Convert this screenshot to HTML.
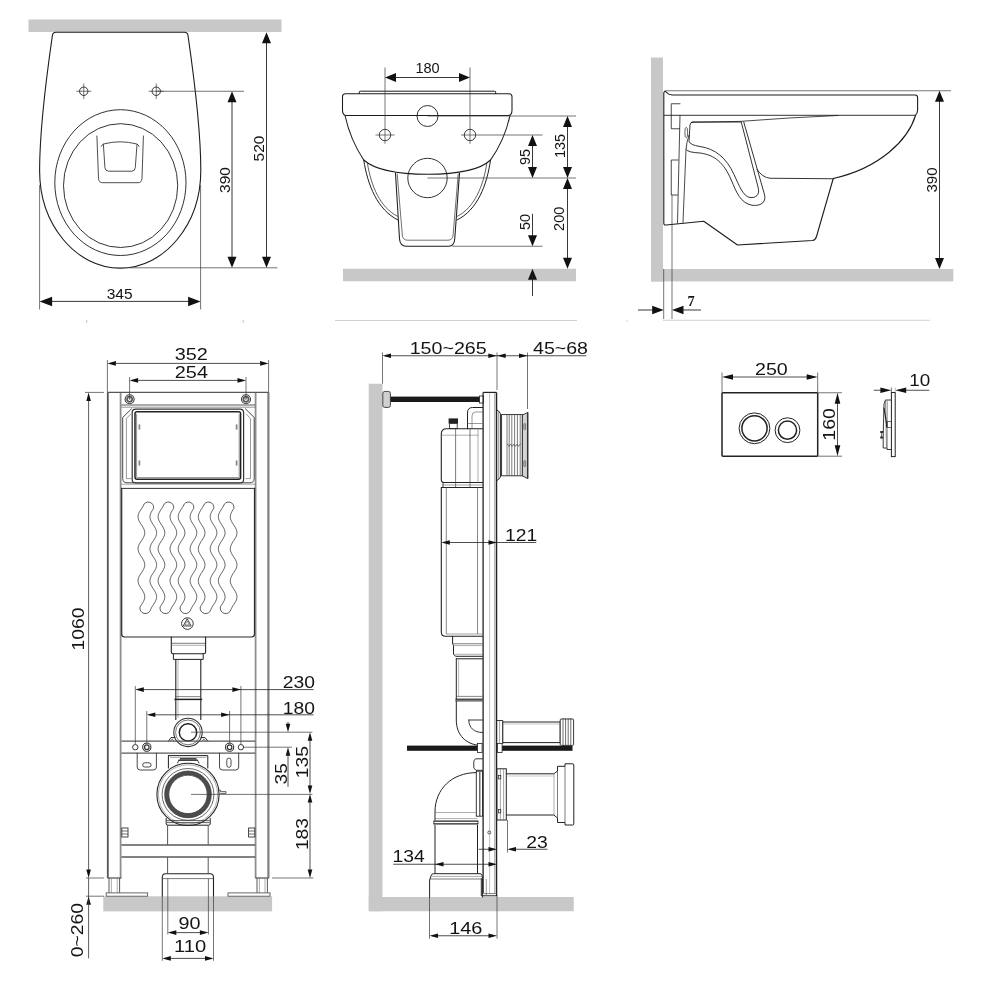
<!DOCTYPE html>
<html><head><meta charset="utf-8"><title>Dimensions</title>
<style>
html,body{margin:0;padding:0;background:#fff;width:1000px;height:1000px;overflow:hidden}
svg{display:block;will-change:transform}
text{font-family:"Liberation Sans",sans-serif}
</style></head><body>
<svg width="1000" height="1000" viewBox="0 0 1000 1000">
<rect x="0" y="0" width="1000" height="1000" fill="#ffffff"/>
<g id="v-top">
<rect x="28.5" y="19.5" width="253" height="12.5" fill="#c8c8c8"/>
<path d="M56,32.3 L184.5,32.3 Q187.6,32.3 188,35.5 C193,70 200.8,130 200.8,170.5 C200.8,224.4 164.7,268.1 120.2,268.1 C75.7,268.1 39.6,224.4 39.6,170.5 C39.6,130 47.4,70 52.4,35.5 Q52.8,32.3 56,32.3 Z" fill="none" stroke="#1c1c1c" stroke-width="1.1" stroke-linejoin="round" stroke-linecap="round" />
<ellipse cx="120.4" cy="182.6" rx="65.6" ry="72.9" fill="none" stroke="#1c1c1c" stroke-width="0.9"/>
<ellipse cx="120.6" cy="185.6" rx="57.1" ry="61.9" fill="none" stroke="#1c1c1c" stroke-width="0.9"/>
<path d="M96.9,136 L98.5,178.5 Q98.8,182.7 102.5,182.7 L138,182.7 Q141.8,182.7 142,178.5 L143.4,136" fill="none" stroke="#3a3a3a" stroke-width="0.9" stroke-linejoin="round" stroke-linecap="round" />
<path d="M101.2,146.3 Q102,144.6 103.6,144 Q120,139.6 136.9,144 Q138.4,144.6 139,146.3 M103.4,144.2 L104.9,167.5 Q105.2,171.2 108.6,171.2 L131.8,171.2 Q135,171.2 135.3,167.5 L137,144.4" fill="none" stroke="#3a3a3a" stroke-width="0.9" stroke-linejoin="round" stroke-linecap="round" />
<circle cx="83.75" cy="91.25" r="4.2" fill="none" stroke="#1c1c1c" stroke-width="0.9"/>
<line x1="76.25" y1="91.25" x2="91.25" y2="91.25" stroke="#3a3a3a" stroke-width="0.7" />
<line x1="83.75" y1="83.5" x2="83.75" y2="99" stroke="#3a3a3a" stroke-width="0.7" />
<circle cx="156.25" cy="91.25" r="4.2" fill="none" stroke="#1c1c1c" stroke-width="0.9"/>
<line x1="148.75" y1="91.25" x2="163.75" y2="91.25" stroke="#3a3a3a" stroke-width="0.7" />
<line x1="156.25" y1="83.5" x2="156.25" y2="99" stroke="#3a3a3a" stroke-width="0.7" />
<line x1="156" y1="91.25" x2="244" y2="91.25" stroke="#3a3a3a" stroke-width="0.7" />
<line x1="130" y1="267.8" x2="277.5" y2="267.8" stroke="#3a3a3a" stroke-width="0.7" />
<line x1="39.6" y1="185" x2="39.6" y2="309.5" stroke="#3a3a3a" stroke-width="0.7" />
<line x1="200.6" y1="185" x2="200.6" y2="309.5" stroke="#3a3a3a" stroke-width="0.7" />
<line x1="232" y1="95" x2="232" y2="264" stroke="#222" stroke-width="0.9" />
<polygon points="232,91.25 227.5,102.25 236.5,102.25" fill="#111"/>
<polygon points="232,267.8 227.5,256.8 236.5,256.8" fill="#111"/>
<text x="229.8" y="180" font-size="15.5" text-anchor="middle" fill="#141414" transform="rotate(-90 229.8 180)">390</text>
<line x1="266.5" y1="36" x2="266.5" y2="264" stroke="#222" stroke-width="0.9" />
<polygon points="266.5,32.3 262,43.3 271,43.3" fill="#111"/>
<polygon points="266.5,267.8 262,256.8 271,256.8" fill="#111"/>
<text x="264.4" y="148.5" font-size="15.5" text-anchor="middle" fill="#141414" transform="rotate(-90 264.4 148.5)">520</text>
<line x1="44" y1="301.4" x2="196" y2="301.4" stroke="#222" stroke-width="0.9" />
<polygon points="39.6,301.4 52.1,296.65 52.1,306.15" fill="#111"/>
<polygon points="200.6,301.4 188.1,296.65 188.1,306.15" fill="#111"/>
<text x="119.6" y="298.6" font-size="15.5" text-anchor="middle" fill="#141414">345</text>
<line x1="86.8" y1="320" x2="86.8" y2="323" stroke="#aaa" stroke-width="0.7" />
<line x1="243.2" y1="320" x2="243.2" y2="323" stroke="#aaa" stroke-width="0.7" />
</g>
<g id="v-back">
<rect x="343" y="268.75" width="233" height="12.5" fill="#c8c8c8"/>
<path d="M359.3,93.6 L359.3,92 Q359.3,91.2 360.4,91.2 L494.6,91.2 Q495.7,91.2 495.7,92 L495.7,93.6" fill="none" stroke="#1c1c1c" stroke-width="1.0" stroke-linejoin="round" stroke-linecap="round" />
<path d="M 345.5,93.75 L 509,93.75 Q 512,93.75 512,96.75 L 512,110 Q 512,115.5 508,115.5 L 346.5,115.5 Q 342.5,115.5 342.5,110 L 342.5,96.75 Q 342.5,93.75 345.5,93.75 Z" fill="none" stroke="#1c1c1c" stroke-width="1.05" stroke-linejoin="round" stroke-linecap="round" />
<path d="M 345,115.5 C 348.75,132.5 353.75,145 363.75,160 C 375,170 397.5,174.25 427.5,174.25 C 457.5,174.25 480,170 490.5,160 C 501.25,145 506.25,132.5 510,115.5" fill="none" stroke="#1c1c1c" stroke-width="1.05" stroke-linejoin="round" stroke-linecap="round" />
<path d="M 363.75,160 C 367.5,185 377.5,210 398,220" fill="none" stroke="#1c1c1c" stroke-width="1.0" stroke-linejoin="round" stroke-linecap="round" />
<path d="M 367.5,163.75 C 371.25,186.25 380,207.5 397.5,216.25" fill="none" stroke="#1c1c1c" stroke-width="0.7" stroke-linejoin="round" stroke-linecap="round" />
<path d="M 490.5,160 C 487,185 477.5,210 457,220" fill="none" stroke="#1c1c1c" stroke-width="1.0" stroke-linejoin="round" stroke-linecap="round" />
<path d="M 486.75,163.75 C 483.25,186.25 474.5,207.5 457.5,216.25" fill="none" stroke="#1c1c1c" stroke-width="0.7" stroke-linejoin="round" stroke-linecap="round" />
<path d="M 395.5,173.25 L 399.5,238.75 Q 400,246.25 406.25,246.25 L 448.75,246.25 Q 454.25,246.25 454.75,238.75 L 459.5,173.25" fill="none" stroke="#1c1c1c" stroke-width="1.05" stroke-linejoin="round" stroke-linecap="round" />
<path d="M397.2,174 L402.3,235 Q402.8,240.2 407.5,240.2 L448,240.2 Q452.6,240.2 453.1,235 L458.2,174" fill="none" stroke="#333" stroke-width="0.7" stroke-linejoin="round" stroke-linecap="round" />
<circle cx="427.5" cy="178" r="19.7" fill="none" stroke="#1c1c1c" stroke-width="0.9"/>
<circle cx="427.5" cy="116" r="10.5" fill="none" stroke="#1c1c1c" stroke-width="0.9"/>
<circle cx="385" cy="135" r="5.7" fill="none" stroke="#1c1c1c" stroke-width="0.85"/>
<circle cx="470" cy="135" r="5.7" fill="none" stroke="#1c1c1c" stroke-width="0.85"/>
<line x1="385" y1="67.5" x2="385" y2="143.8" stroke="#3a3a3a" stroke-width="0.7" />
<line x1="470" y1="67.5" x2="470" y2="143.8" stroke="#3a3a3a" stroke-width="0.7" />
<line x1="375.5" y1="135" x2="394.5" y2="135" stroke="#3a3a3a" stroke-width="0.7" />
<line x1="461" y1="135" x2="542.5" y2="135" stroke="#3a3a3a" stroke-width="0.7" />
<line x1="427.5" y1="116" x2="576" y2="116" stroke="#3a3a3a" stroke-width="0.7" />
<line x1="427.5" y1="178" x2="576" y2="178" stroke="#3a3a3a" stroke-width="0.7" />
<line x1="452.5" y1="246.25" x2="542.5" y2="246.25" stroke="#3a3a3a" stroke-width="0.7" />
<line x1="389" y1="77.5" x2="466" y2="77.5" stroke="#222" stroke-width="0.9" />
<polygon points="385,77.5 396,73 396,82" fill="#111"/>
<polygon points="470,77.5 459,73 459,82" fill="#111"/>
<text x="427.5" y="72.6" font-size="14.5" text-anchor="middle" fill="#141414">180</text>
<line x1="532.5" y1="139" x2="532.5" y2="174" stroke="#222" stroke-width="0.9" />
<polygon points="532.5,135 528,146 537,146" fill="#111"/>
<polygon points="532.5,178 528,167 537,167" fill="#111"/>
<text x="530" y="157" font-size="14.5" text-anchor="middle" fill="#141414" transform="rotate(-90 530 157)">95</text>
<line x1="567.5" y1="120" x2="567.5" y2="174" stroke="#222" stroke-width="0.9" />
<polygon points="567.5,116 563,127 572,127" fill="#111"/>
<polygon points="567.5,178 563,167 572,167" fill="#111"/>
<text x="564.5" y="146" font-size="14.5" text-anchor="middle" fill="#141414" transform="rotate(-90 564.5 146)">135</text>
<line x1="567.5" y1="182" x2="567.5" y2="265" stroke="#222" stroke-width="0.9" />
<polygon points="567.5,178 563,189 572,189" fill="#111"/>
<polygon points="567.5,268.75 563,257.75 572,257.75" fill="#111"/>
<text x="564.5" y="218.8" font-size="14.5" text-anchor="middle" fill="#141414" transform="rotate(-90 564.5 218.8)">200</text>
<line x1="532.5" y1="213.75" x2="532.5" y2="240" stroke="#222" stroke-width="0.9" />
<polygon points="532.5,246.25 528,235.25 537,235.25" fill="#111"/>
<polygon points="532.5,268.75 528,279.75 537,279.75" fill="#111"/>
<line x1="532.5" y1="275" x2="532.5" y2="296" stroke="#222" stroke-width="0.9" />
<text x="530" y="222" font-size="14.5" text-anchor="middle" fill="#141414" transform="rotate(-90 530 222)">50</text>
<line x1="335" y1="320.5" x2="577" y2="320.5" stroke="#bdbdbd" stroke-width="0.7" />
</g>
<g id="v-side">
<rect x="651" y="57.5" width="12" height="224" fill="#c8c8c8"/>
<rect x="651" y="269" width="302.3" height="12.4" fill="#c8c8c8"/>
<line x1="664.5" y1="90.75" x2="951" y2="90.75" stroke="#3a3a3a" stroke-width="0.7" />
<path d="M663.8,93 L663.8,223 Q663.8,225.3 666,225 L703.75,221.25 L737.5,245 L812.5,240.5 Q815.5,240 816.5,236.5 L833.25,178.5 C880,168 908,140 915.5,115.5 Q917.6,113 917.6,110 L917.6,97.5 Q917.6,95 915,95 L672,95 Q668,94.6 666.5,92.3 Q664.5,90.3 663.8,93 Z" fill="none" stroke="#1c1c1c" stroke-width="1.1" stroke-linejoin="round" stroke-linecap="round" />
<line x1="663.8" y1="115.3" x2="916" y2="115.3" stroke="#1c1c1c" stroke-width="0.9" />
<path d="M691.5,122.3 L740,121.4 Q790,117.5 838,115.5" fill="none" stroke="#1c1c1c" stroke-width="0.8" stroke-linejoin="round" stroke-linecap="round" />
<path d="M 757,169.5 Q 762.5,177.5 770,178.25 L 833.75,178.75" fill="none" stroke="#1c1c1c" stroke-width="0.9" stroke-linejoin="round" stroke-linecap="round" />
<path d="M 693,122 L 741.25,122 L 758,187 C 760.5,195 755.5,198.25 750,197.5 C 743,196.25 739.5,186.25 734,174.5 C 726.25,157.5 715,148.75 700,146.5 Q 690,145 689,141.25 L 690,125 Q 690.25,122 693,122" fill="none" stroke="#1c1c1c" stroke-width="0.9" stroke-linejoin="round" stroke-linecap="round" />
<path d="M 743.75,122 L 764.25,193.75 C 766.75,201.25 762,206.5 752,205.25 C 740.5,203 736.5,192.5 731.25,180 C 724,163 715,155 700,153 Q 688,152.5 686,149.5" fill="none" stroke="#1c1c1c" stroke-width="0.9" stroke-linejoin="round" stroke-linecap="round" />
<path d="M 680,103.75 L 671.25,103.75 L 671.25,128.75 L 679.5,128.75" fill="none" stroke="#1c1c1c" stroke-width="0.8" stroke-linejoin="round" stroke-linecap="round" />
<path d="M 678,160 L 671.25,160 L 671.25,195 L 677.5,195" fill="none" stroke="#1c1c1c" stroke-width="0.8" stroke-linejoin="round" stroke-linecap="round" />
<path d="M 680,115.5 L 677.5,223" fill="none" stroke="#1c1c1c" stroke-width="0.8" stroke-linejoin="round" stroke-linecap="round" />
<path d="M 689,135 Q 686.5,142.5 686,149.5 L 683,222.5" fill="none" stroke="#1c1c1c" stroke-width="0.8" stroke-linejoin="round" stroke-linecap="round" />
<ellipse cx="686.25" cy="132.5" rx="1.4" ry="5.2" fill="none" stroke="#1c1c1c" stroke-width="0.7"/>
<line x1="663.7" y1="269" x2="663.7" y2="319" stroke="#3a3a3a" stroke-width="0.7" />
<line x1="672" y1="195" x2="672" y2="319" stroke="#3a3a3a" stroke-width="0.7" />
<line x1="638" y1="310" x2="654" y2="310" stroke="#222" stroke-width="0.9" />
<polygon points="663.7,310 652.2,305.75 652.2,314.25" fill="#111"/>
<polygon points="672,310 683.5,305.75 683.5,314.25" fill="#111"/>
<line x1="682" y1="310" x2="701" y2="310" stroke="#222" stroke-width="0.9" />
<text x="691.2" y="306.2" font-size="14.4" text-anchor="middle" fill="#141414" style="font-family:'Liberation Serif',serif;font-weight:bold;">7</text>
<line x1="939.5" y1="95" x2="939.5" y2="265" stroke="#222" stroke-width="0.9" />
<polygon points="939.5,90.75 935,101.75 944,101.75" fill="#111"/>
<polygon points="939.5,268.9 935,257.9 944,257.9" fill="#111"/>
<text x="936.8" y="180" font-size="15" text-anchor="middle" fill="#141414" transform="rotate(-90 936.8 180)">390</text>
<line x1="663" y1="320.3" x2="930" y2="320.3" stroke="#bdbdbd" stroke-width="0.7" />
<line x1="627" y1="320" x2="627" y2="322" stroke="#bbb" stroke-width="0.7" />
</g>
<g id="v-frame">
<rect x="103.3" y="896.3" width="168.8" height="15.1" fill="#c8c8c8"/>
<line x1="107.8" y1="392.4" x2="107.8" y2="878" stroke="#555" stroke-width="1.8" />
<line x1="120.6" y1="392.4" x2="120.6" y2="878" stroke="#8e8e8e" stroke-width="1.8" />
<line x1="255.6" y1="392.4" x2="255.6" y2="878" stroke="#8e8e8e" stroke-width="1.8" />
<line x1="268.4" y1="392.4" x2="268.4" y2="878" stroke="#808080" stroke-width="2.2" />
<line x1="107.4" y1="392.4" x2="268.8" y2="392.4" stroke="#585858" stroke-width="1.4" />
<line x1="121.4" y1="405" x2="255.3" y2="405" stroke="#585858" stroke-width="1.0" />
<line x1="121.4" y1="407.2" x2="255.3" y2="407.2" stroke="#666" stroke-width="0.7" />
<circle cx="129.6" cy="399.2" r="4.5" fill="none" stroke="#3a3a3a" stroke-width="1.1"/>
<circle cx="129.6" cy="399.2" r="2.6" fill="none" stroke="#5a5a5a" stroke-width="1.7"/>
<path d="M128.4,398 L130.79999999999998,400.4 M130.79999999999998,398 L128.4,400.4" fill="none" stroke="#777" stroke-width="0.6" stroke-linejoin="round" stroke-linecap="round" />
<circle cx="246" cy="399.2" r="4.5" fill="none" stroke="#3a3a3a" stroke-width="1.1"/>
<circle cx="246" cy="399.2" r="2.6" fill="none" stroke="#5a5a5a" stroke-width="1.7"/>
<path d="M244.8,398 L247.2,400.4 M247.2,398 L244.8,400.4" fill="none" stroke="#777" stroke-width="0.6" stroke-linejoin="round" stroke-linecap="round" />
<path d="M131.5,408.8 L122.7,417.5 L122.7,478.5 Q122.7,482.8 127,482.8 L249.9,482.8 Q254.2,482.8 254.2,478.5 L254.2,417.5 L245.4,408.8" fill="none" stroke="#333" stroke-width="0.9" stroke-linejoin="round" stroke-linecap="round" />
<path d="M130.6,414 L126.4,418.6 L126.4,478.6 L131,478.6 M246.3,414 L250.5,418.6 L250.5,478.6 L246,478.6" fill="none" stroke="#555" stroke-width="0.6" stroke-linejoin="round" stroke-linecap="round" />
<line x1="121.4" y1="484.2" x2="255.3" y2="484.2" stroke="#666" stroke-width="0.6" />
<rect x="132.2" y="409.2" width="111.4" height="73.8" fill="none" stroke="#333" stroke-width="1.2" rx="3.5"/>
<rect x="135" y="411.8" width="105.6" height="67.4" fill="none" stroke="#222" stroke-width="1.5" rx="2"/>
<line x1="136.6" y1="414" x2="136.6" y2="477.6" stroke="#666" stroke-width="0.7" />
<line x1="239.2" y1="414" x2="239.2" y2="477.6" stroke="#666" stroke-width="0.7" />
<line x1="137" y1="477.6" x2="239" y2="477.6" stroke="#666" stroke-width="0.7" />
<rect x="138.5" y="424.2" width="1.8" height="5.6" fill="#8a8a8a" rx="0.8"/>
<rect x="138.5" y="460.2" width="1.8" height="5.6" fill="#8a8a8a" rx="0.8"/>
<rect x="235.7" y="424.2" width="1.8" height="5.6" fill="#8a8a8a" rx="0.8"/>
<rect x="235.7" y="460.2" width="1.8" height="5.6" fill="#8a8a8a" rx="0.8"/>
<line x1="121.4" y1="488.4" x2="255.3" y2="488.4" stroke="#333" stroke-width="1.0" />
<path d="M121.7,488.4 L121.7,634 Q121.7,637 124.6,637 L251.5,637 Q254.5,637 254.5,634 L254.5,488.4" fill="none" stroke="#2a2a2a" stroke-width="1.2" stroke-linejoin="round" stroke-linecap="round" />
<path d="M140.01,607 L140.5,606.2 L141.01,605.4 L141.53,604.6 L142.05,603.8 L142.55,603 L143.03,602.2 L143.46,601.4 L143.85,600.6 L144.17,599.8 L144.42,599 L144.6,598.2 L144.71,597.4 L144.73,596.6 L144.67,595.8 L144.52,595 L144.31,594.2 L144.02,593.4 L143.66,592.6 L143.25,591.8 L142.79,591 L142.3,590.2 L141.79,589.4 L141.27,588.6 L140.75,587.8 L140.25,587 L139.77,586.2 L139.34,585.4 L138.95,584.6 L138.63,583.8 L138.38,583 L138.2,582.2 L138.09,581.4 L138.07,580.6 L138.13,579.8 L138.28,579 L138.49,578.2 L138.78,577.4 L139.14,576.6 L139.55,575.8 L140.01,575 L140.5,574.2 L141.01,573.4 L141.53,572.6 L142.05,571.8 L142.55,571 L143.03,570.2 L143.46,569.4 L143.85,568.6 L144.17,567.8 L144.42,567 L144.6,566.2 L144.71,565.4 L144.73,564.6 L144.67,563.8 L144.52,563 L144.31,562.2 L144.02,561.4 L143.66,560.6 L143.25,559.8 L142.79,559 L142.3,558.2 L141.79,557.4 L141.27,556.6 L140.75,555.8 L140.25,555 L139.77,554.2 L139.34,553.4 L138.95,552.6 L138.63,551.8 L138.38,551 L138.2,550.2 L138.09,549.4 L138.07,548.6 L138.13,547.8 L138.28,547 L138.49,546.2 L138.78,545.4 L139.14,544.6 L139.55,543.8 L140.01,543 L140.5,542.2 L141.01,541.4 L141.53,540.6 L142.05,539.8 L142.55,539 L143.03,538.2 L143.46,537.4 L143.85,536.6 L144.17,535.8 L144.42,535 L144.6,534.2 L144.71,533.4 L144.73,532.6 L144.67,531.8 L144.52,531 L144.31,530.2 L144.02,529.4 L143.66,528.6 L143.25,527.8 L142.79,527 L142.3,526.2 L141.79,525.4 L141.27,524.6 L140.75,523.8 L140.25,523 L139.77,522.2 L139.34,521.4 L138.95,520.6 L138.63,519.8 L138.38,519 L138.2,518.2 L138.09,517.4 L138.07,516.6 L138.13,515.8 L138.28,515 L138.49,514.2 L138.78,513.4 L139.14,512.6 L139.55,511.8 L140.01,511 L140.5,510.2 L141.01,509.4 L141.53,508.6 L142.05,507.8 L142.55,507 L143.03,506.2 L143.14,506 A5.33,5.33 0 0 1 153.5,508.5 L152.97,509.3 L152.46,510.1 L151.97,510.9 L151.5,511.7 L151.09,512.5 L150.73,513.3 L150.43,514.1 L150.2,514.9 L150.05,515.7 L149.98,516.5 L149.99,517.3 L150.08,518.1 L150.25,518.9 L150.5,519.7 L150.81,520.5 L151.19,521.3 L151.62,522.1 L152.09,522.9 L152.59,523.7 L153.1,524.5 L153.63,525.3 L154.14,526.1 L154.63,526.9 L155.1,527.7 L155.51,528.5 L155.87,529.3 L156.17,530.1 L156.4,530.9 L156.55,531.7 L156.62,532.5 L156.61,533.3 L156.52,534.1 L156.35,534.9 L156.1,535.7 L155.79,536.5 L155.41,537.3 L154.98,538.1 L154.51,538.9 L154.01,539.7 L153.5,540.5 L152.97,541.3 L152.46,542.1 L151.97,542.9 L151.5,543.7 L151.09,544.5 L150.73,545.3 L150.43,546.1 L150.2,546.9 L150.05,547.7 L149.98,548.5 L149.99,549.3 L150.08,550.1 L150.25,550.9 L150.5,551.7 L150.81,552.5 L151.19,553.3 L151.62,554.1 L152.09,554.9 L152.59,555.7 L153.1,556.5 L153.63,557.3 L154.14,558.1 L154.63,558.9 L155.1,559.7 L155.51,560.5 L155.87,561.3 L156.17,562.1 L156.4,562.9 L156.55,563.7 L156.62,564.5 L156.61,565.3 L156.52,566.1 L156.35,566.9 L156.1,567.7 L155.79,568.5 L155.41,569.3 L154.98,570.1 L154.51,570.9 L154.01,571.7 L153.5,572.5 L152.97,573.3 L152.46,574.1 L151.97,574.9 L151.5,575.7 L151.09,576.5 L150.73,577.3 L150.43,578.1 L150.2,578.9 L150.05,579.7 L149.98,580.5 L149.99,581.3 L150.08,582.1 L150.25,582.9 L150.5,583.7 L150.81,584.5 L151.19,585.3 L151.62,586.1 L152.09,586.9 L152.59,587.7 L153.1,588.5 L153.63,589.3 L154.14,590.1 L154.63,590.9 L155.1,591.7 L155.51,592.5 L155.87,593.3 L156.17,594.1 L156.4,594.9 L156.55,595.7 L156.62,596.5 L156.61,597.3 L156.52,598.1 L156.35,598.9 L156.1,599.7 L155.79,600.5 L155.41,601.3 L154.98,602.1 L154.51,602.9 L154.01,603.7 L153.5,604.5 L152.97,605.3 L152.46,606.1 L151.97,606.9 L151.5,607.7 L151.09,608.5 L150.73,609.3 L150.61,609.6 A5.46,5.46 0 0 1 140.01,607 Z" fill="none" stroke="#3c3c3c" stroke-width="0.85" stroke-linejoin="round"/>
<path d="M160.09,607 L160.58,606.2 L161.09,605.4 L161.61,604.6 L162.13,603.8 L162.63,603 L163.11,602.2 L163.54,601.4 L163.93,600.6 L164.25,599.8 L164.5,599 L164.68,598.2 L164.79,597.4 L164.81,596.6 L164.75,595.8 L164.6,595 L164.39,594.2 L164.1,593.4 L163.74,592.6 L163.33,591.8 L162.87,591 L162.38,590.2 L161.87,589.4 L161.35,588.6 L160.83,587.8 L160.33,587 L159.85,586.2 L159.42,585.4 L159.03,584.6 L158.71,583.8 L158.46,583 L158.28,582.2 L158.17,581.4 L158.15,580.6 L158.21,579.8 L158.36,579 L158.57,578.2 L158.86,577.4 L159.22,576.6 L159.63,575.8 L160.09,575 L160.58,574.2 L161.09,573.4 L161.61,572.6 L162.13,571.8 L162.63,571 L163.11,570.2 L163.54,569.4 L163.93,568.6 L164.25,567.8 L164.5,567 L164.68,566.2 L164.79,565.4 L164.81,564.6 L164.75,563.8 L164.6,563 L164.39,562.2 L164.1,561.4 L163.74,560.6 L163.33,559.8 L162.87,559 L162.38,558.2 L161.87,557.4 L161.35,556.6 L160.83,555.8 L160.33,555 L159.85,554.2 L159.42,553.4 L159.03,552.6 L158.71,551.8 L158.46,551 L158.28,550.2 L158.17,549.4 L158.15,548.6 L158.21,547.8 L158.36,547 L158.57,546.2 L158.86,545.4 L159.22,544.6 L159.63,543.8 L160.09,543 L160.58,542.2 L161.09,541.4 L161.61,540.6 L162.13,539.8 L162.63,539 L163.11,538.2 L163.54,537.4 L163.93,536.6 L164.25,535.8 L164.5,535 L164.68,534.2 L164.79,533.4 L164.81,532.6 L164.75,531.8 L164.6,531 L164.39,530.2 L164.1,529.4 L163.74,528.6 L163.33,527.8 L162.87,527 L162.38,526.2 L161.87,525.4 L161.35,524.6 L160.83,523.8 L160.33,523 L159.85,522.2 L159.42,521.4 L159.03,520.6 L158.71,519.8 L158.46,519 L158.28,518.2 L158.17,517.4 L158.15,516.6 L158.21,515.8 L158.36,515 L158.57,514.2 L158.86,513.4 L159.22,512.6 L159.63,511.8 L160.09,511 L160.58,510.2 L161.09,509.4 L161.61,508.6 L162.13,507.8 L162.63,507 L163.11,506.2 L163.22,506 A5.33,5.33 0 0 1 173.58,508.5 L173.05,509.3 L172.54,510.1 L172.05,510.9 L171.58,511.7 L171.17,512.5 L170.81,513.3 L170.51,514.1 L170.28,514.9 L170.13,515.7 L170.06,516.5 L170.07,517.3 L170.16,518.1 L170.33,518.9 L170.58,519.7 L170.89,520.5 L171.27,521.3 L171.7,522.1 L172.17,522.9 L172.67,523.7 L173.18,524.5 L173.71,525.3 L174.22,526.1 L174.71,526.9 L175.18,527.7 L175.59,528.5 L175.95,529.3 L176.25,530.1 L176.48,530.9 L176.63,531.7 L176.7,532.5 L176.69,533.3 L176.6,534.1 L176.43,534.9 L176.18,535.7 L175.87,536.5 L175.49,537.3 L175.06,538.1 L174.59,538.9 L174.09,539.7 L173.58,540.5 L173.05,541.3 L172.54,542.1 L172.05,542.9 L171.58,543.7 L171.17,544.5 L170.81,545.3 L170.51,546.1 L170.28,546.9 L170.13,547.7 L170.06,548.5 L170.07,549.3 L170.16,550.1 L170.33,550.9 L170.58,551.7 L170.89,552.5 L171.27,553.3 L171.7,554.1 L172.17,554.9 L172.67,555.7 L173.18,556.5 L173.71,557.3 L174.22,558.1 L174.71,558.9 L175.18,559.7 L175.59,560.5 L175.95,561.3 L176.25,562.1 L176.48,562.9 L176.63,563.7 L176.7,564.5 L176.69,565.3 L176.6,566.1 L176.43,566.9 L176.18,567.7 L175.87,568.5 L175.49,569.3 L175.06,570.1 L174.59,570.9 L174.09,571.7 L173.58,572.5 L173.05,573.3 L172.54,574.1 L172.05,574.9 L171.58,575.7 L171.17,576.5 L170.81,577.3 L170.51,578.1 L170.28,578.9 L170.13,579.7 L170.06,580.5 L170.07,581.3 L170.16,582.1 L170.33,582.9 L170.58,583.7 L170.89,584.5 L171.27,585.3 L171.7,586.1 L172.17,586.9 L172.67,587.7 L173.18,588.5 L173.71,589.3 L174.22,590.1 L174.71,590.9 L175.18,591.7 L175.59,592.5 L175.95,593.3 L176.25,594.1 L176.48,594.9 L176.63,595.7 L176.7,596.5 L176.69,597.3 L176.6,598.1 L176.43,598.9 L176.18,599.7 L175.87,600.5 L175.49,601.3 L175.06,602.1 L174.59,602.9 L174.09,603.7 L173.58,604.5 L173.05,605.3 L172.54,606.1 L172.05,606.9 L171.58,607.7 L171.17,608.5 L170.81,609.3 L170.69,609.6 A5.46,5.46 0 0 1 160.09,607 Z" fill="none" stroke="#3c3c3c" stroke-width="0.85" stroke-linejoin="round"/>
<path d="M180.17,607 L180.66,606.2 L181.17,605.4 L181.69,604.6 L182.21,603.8 L182.71,603 L183.19,602.2 L183.62,601.4 L184.01,600.6 L184.33,599.8 L184.58,599 L184.76,598.2 L184.87,597.4 L184.89,596.6 L184.83,595.8 L184.68,595 L184.47,594.2 L184.18,593.4 L183.82,592.6 L183.41,591.8 L182.95,591 L182.46,590.2 L181.95,589.4 L181.43,588.6 L180.91,587.8 L180.41,587 L179.93,586.2 L179.5,585.4 L179.11,584.6 L178.79,583.8 L178.54,583 L178.36,582.2 L178.25,581.4 L178.23,580.6 L178.29,579.8 L178.44,579 L178.65,578.2 L178.94,577.4 L179.3,576.6 L179.71,575.8 L180.17,575 L180.66,574.2 L181.17,573.4 L181.69,572.6 L182.21,571.8 L182.71,571 L183.19,570.2 L183.62,569.4 L184.01,568.6 L184.33,567.8 L184.58,567 L184.76,566.2 L184.87,565.4 L184.89,564.6 L184.83,563.8 L184.68,563 L184.47,562.2 L184.18,561.4 L183.82,560.6 L183.41,559.8 L182.95,559 L182.46,558.2 L181.95,557.4 L181.43,556.6 L180.91,555.8 L180.41,555 L179.93,554.2 L179.5,553.4 L179.11,552.6 L178.79,551.8 L178.54,551 L178.36,550.2 L178.25,549.4 L178.23,548.6 L178.29,547.8 L178.44,547 L178.65,546.2 L178.94,545.4 L179.3,544.6 L179.71,543.8 L180.17,543 L180.66,542.2 L181.17,541.4 L181.69,540.6 L182.21,539.8 L182.71,539 L183.19,538.2 L183.62,537.4 L184.01,536.6 L184.33,535.8 L184.58,535 L184.76,534.2 L184.87,533.4 L184.89,532.6 L184.83,531.8 L184.68,531 L184.47,530.2 L184.18,529.4 L183.82,528.6 L183.41,527.8 L182.95,527 L182.46,526.2 L181.95,525.4 L181.43,524.6 L180.91,523.8 L180.41,523 L179.93,522.2 L179.5,521.4 L179.11,520.6 L178.79,519.8 L178.54,519 L178.36,518.2 L178.25,517.4 L178.23,516.6 L178.29,515.8 L178.44,515 L178.65,514.2 L178.94,513.4 L179.3,512.6 L179.71,511.8 L180.17,511 L180.66,510.2 L181.17,509.4 L181.69,508.6 L182.21,507.8 L182.71,507 L183.19,506.2 L183.3,506 A5.33,5.33 0 0 1 193.66,508.5 L193.13,509.3 L192.62,510.1 L192.13,510.9 L191.66,511.7 L191.25,512.5 L190.89,513.3 L190.59,514.1 L190.36,514.9 L190.21,515.7 L190.14,516.5 L190.15,517.3 L190.24,518.1 L190.41,518.9 L190.66,519.7 L190.97,520.5 L191.35,521.3 L191.78,522.1 L192.25,522.9 L192.75,523.7 L193.26,524.5 L193.79,525.3 L194.3,526.1 L194.79,526.9 L195.26,527.7 L195.67,528.5 L196.03,529.3 L196.33,530.1 L196.56,530.9 L196.71,531.7 L196.78,532.5 L196.77,533.3 L196.68,534.1 L196.51,534.9 L196.26,535.7 L195.95,536.5 L195.57,537.3 L195.14,538.1 L194.67,538.9 L194.17,539.7 L193.66,540.5 L193.13,541.3 L192.62,542.1 L192.13,542.9 L191.66,543.7 L191.25,544.5 L190.89,545.3 L190.59,546.1 L190.36,546.9 L190.21,547.7 L190.14,548.5 L190.15,549.3 L190.24,550.1 L190.41,550.9 L190.66,551.7 L190.97,552.5 L191.35,553.3 L191.78,554.1 L192.25,554.9 L192.75,555.7 L193.26,556.5 L193.79,557.3 L194.3,558.1 L194.79,558.9 L195.26,559.7 L195.67,560.5 L196.03,561.3 L196.33,562.1 L196.56,562.9 L196.71,563.7 L196.78,564.5 L196.77,565.3 L196.68,566.1 L196.51,566.9 L196.26,567.7 L195.95,568.5 L195.57,569.3 L195.14,570.1 L194.67,570.9 L194.17,571.7 L193.66,572.5 L193.13,573.3 L192.62,574.1 L192.13,574.9 L191.66,575.7 L191.25,576.5 L190.89,577.3 L190.59,578.1 L190.36,578.9 L190.21,579.7 L190.14,580.5 L190.15,581.3 L190.24,582.1 L190.41,582.9 L190.66,583.7 L190.97,584.5 L191.35,585.3 L191.78,586.1 L192.25,586.9 L192.75,587.7 L193.26,588.5 L193.79,589.3 L194.3,590.1 L194.79,590.9 L195.26,591.7 L195.67,592.5 L196.03,593.3 L196.33,594.1 L196.56,594.9 L196.71,595.7 L196.78,596.5 L196.77,597.3 L196.68,598.1 L196.51,598.9 L196.26,599.7 L195.95,600.5 L195.57,601.3 L195.14,602.1 L194.67,602.9 L194.17,603.7 L193.66,604.5 L193.13,605.3 L192.62,606.1 L192.13,606.9 L191.66,607.7 L191.25,608.5 L190.89,609.3 L190.77,609.6 A5.46,5.46 0 0 1 180.17,607 Z" fill="none" stroke="#3c3c3c" stroke-width="0.85" stroke-linejoin="round"/>
<path d="M200.25,607 L200.74,606.2 L201.25,605.4 L201.77,604.6 L202.29,603.8 L202.79,603 L203.27,602.2 L203.7,601.4 L204.09,600.6 L204.41,599.8 L204.66,599 L204.84,598.2 L204.95,597.4 L204.97,596.6 L204.91,595.8 L204.76,595 L204.55,594.2 L204.26,593.4 L203.9,592.6 L203.49,591.8 L203.03,591 L202.54,590.2 L202.03,589.4 L201.51,588.6 L200.99,587.8 L200.49,587 L200.01,586.2 L199.58,585.4 L199.19,584.6 L198.87,583.8 L198.62,583 L198.44,582.2 L198.33,581.4 L198.31,580.6 L198.37,579.8 L198.52,579 L198.73,578.2 L199.02,577.4 L199.38,576.6 L199.79,575.8 L200.25,575 L200.74,574.2 L201.25,573.4 L201.77,572.6 L202.29,571.8 L202.79,571 L203.27,570.2 L203.7,569.4 L204.09,568.6 L204.41,567.8 L204.66,567 L204.84,566.2 L204.95,565.4 L204.97,564.6 L204.91,563.8 L204.76,563 L204.55,562.2 L204.26,561.4 L203.9,560.6 L203.49,559.8 L203.03,559 L202.54,558.2 L202.03,557.4 L201.51,556.6 L200.99,555.8 L200.49,555 L200.01,554.2 L199.58,553.4 L199.19,552.6 L198.87,551.8 L198.62,551 L198.44,550.2 L198.33,549.4 L198.31,548.6 L198.37,547.8 L198.52,547 L198.73,546.2 L199.02,545.4 L199.38,544.6 L199.79,543.8 L200.25,543 L200.74,542.2 L201.25,541.4 L201.77,540.6 L202.29,539.8 L202.79,539 L203.27,538.2 L203.7,537.4 L204.09,536.6 L204.41,535.8 L204.66,535 L204.84,534.2 L204.95,533.4 L204.97,532.6 L204.91,531.8 L204.76,531 L204.55,530.2 L204.26,529.4 L203.9,528.6 L203.49,527.8 L203.03,527 L202.54,526.2 L202.03,525.4 L201.51,524.6 L200.99,523.8 L200.49,523 L200.01,522.2 L199.58,521.4 L199.19,520.6 L198.87,519.8 L198.62,519 L198.44,518.2 L198.33,517.4 L198.31,516.6 L198.37,515.8 L198.52,515 L198.73,514.2 L199.02,513.4 L199.38,512.6 L199.79,511.8 L200.25,511 L200.74,510.2 L201.25,509.4 L201.77,508.6 L202.29,507.8 L202.79,507 L203.27,506.2 L203.38,506 A5.33,5.33 0 0 1 213.74,508.5 L213.21,509.3 L212.7,510.1 L212.21,510.9 L211.74,511.7 L211.33,512.5 L210.97,513.3 L210.67,514.1 L210.44,514.9 L210.29,515.7 L210.22,516.5 L210.23,517.3 L210.32,518.1 L210.49,518.9 L210.74,519.7 L211.05,520.5 L211.43,521.3 L211.86,522.1 L212.33,522.9 L212.83,523.7 L213.34,524.5 L213.87,525.3 L214.38,526.1 L214.87,526.9 L215.34,527.7 L215.75,528.5 L216.11,529.3 L216.41,530.1 L216.64,530.9 L216.79,531.7 L216.86,532.5 L216.85,533.3 L216.76,534.1 L216.59,534.9 L216.34,535.7 L216.03,536.5 L215.65,537.3 L215.22,538.1 L214.75,538.9 L214.25,539.7 L213.74,540.5 L213.21,541.3 L212.7,542.1 L212.21,542.9 L211.74,543.7 L211.33,544.5 L210.97,545.3 L210.67,546.1 L210.44,546.9 L210.29,547.7 L210.22,548.5 L210.23,549.3 L210.32,550.1 L210.49,550.9 L210.74,551.7 L211.05,552.5 L211.43,553.3 L211.86,554.1 L212.33,554.9 L212.83,555.7 L213.34,556.5 L213.87,557.3 L214.38,558.1 L214.87,558.9 L215.34,559.7 L215.75,560.5 L216.11,561.3 L216.41,562.1 L216.64,562.9 L216.79,563.7 L216.86,564.5 L216.85,565.3 L216.76,566.1 L216.59,566.9 L216.34,567.7 L216.03,568.5 L215.65,569.3 L215.22,570.1 L214.75,570.9 L214.25,571.7 L213.74,572.5 L213.21,573.3 L212.7,574.1 L212.21,574.9 L211.74,575.7 L211.33,576.5 L210.97,577.3 L210.67,578.1 L210.44,578.9 L210.29,579.7 L210.22,580.5 L210.23,581.3 L210.32,582.1 L210.49,582.9 L210.74,583.7 L211.05,584.5 L211.43,585.3 L211.86,586.1 L212.33,586.9 L212.83,587.7 L213.34,588.5 L213.87,589.3 L214.38,590.1 L214.87,590.9 L215.34,591.7 L215.75,592.5 L216.11,593.3 L216.41,594.1 L216.64,594.9 L216.79,595.7 L216.86,596.5 L216.85,597.3 L216.76,598.1 L216.59,598.9 L216.34,599.7 L216.03,600.5 L215.65,601.3 L215.22,602.1 L214.75,602.9 L214.25,603.7 L213.74,604.5 L213.21,605.3 L212.7,606.1 L212.21,606.9 L211.74,607.7 L211.33,608.5 L210.97,609.3 L210.85,609.6 A5.46,5.46 0 0 1 200.25,607 Z" fill="none" stroke="#3c3c3c" stroke-width="0.85" stroke-linejoin="round"/>
<path d="M220.33,607 L220.82,606.2 L221.33,605.4 L221.85,604.6 L222.37,603.8 L222.87,603 L223.35,602.2 L223.78,601.4 L224.17,600.6 L224.49,599.8 L224.74,599 L224.92,598.2 L225.03,597.4 L225.05,596.6 L224.99,595.8 L224.84,595 L224.63,594.2 L224.34,593.4 L223.98,592.6 L223.57,591.8 L223.11,591 L222.62,590.2 L222.11,589.4 L221.59,588.6 L221.07,587.8 L220.57,587 L220.09,586.2 L219.66,585.4 L219.27,584.6 L218.95,583.8 L218.7,583 L218.52,582.2 L218.41,581.4 L218.39,580.6 L218.45,579.8 L218.6,579 L218.81,578.2 L219.1,577.4 L219.46,576.6 L219.87,575.8 L220.33,575 L220.82,574.2 L221.33,573.4 L221.85,572.6 L222.37,571.8 L222.87,571 L223.35,570.2 L223.78,569.4 L224.17,568.6 L224.49,567.8 L224.74,567 L224.92,566.2 L225.03,565.4 L225.05,564.6 L224.99,563.8 L224.84,563 L224.63,562.2 L224.34,561.4 L223.98,560.6 L223.57,559.8 L223.11,559 L222.62,558.2 L222.11,557.4 L221.59,556.6 L221.07,555.8 L220.57,555 L220.09,554.2 L219.66,553.4 L219.27,552.6 L218.95,551.8 L218.7,551 L218.52,550.2 L218.41,549.4 L218.39,548.6 L218.45,547.8 L218.6,547 L218.81,546.2 L219.1,545.4 L219.46,544.6 L219.87,543.8 L220.33,543 L220.82,542.2 L221.33,541.4 L221.85,540.6 L222.37,539.8 L222.87,539 L223.35,538.2 L223.78,537.4 L224.17,536.6 L224.49,535.8 L224.74,535 L224.92,534.2 L225.03,533.4 L225.05,532.6 L224.99,531.8 L224.84,531 L224.63,530.2 L224.34,529.4 L223.98,528.6 L223.57,527.8 L223.11,527 L222.62,526.2 L222.11,525.4 L221.59,524.6 L221.07,523.8 L220.57,523 L220.09,522.2 L219.66,521.4 L219.27,520.6 L218.95,519.8 L218.7,519 L218.52,518.2 L218.41,517.4 L218.39,516.6 L218.45,515.8 L218.6,515 L218.81,514.2 L219.1,513.4 L219.46,512.6 L219.87,511.8 L220.33,511 L220.82,510.2 L221.33,509.4 L221.85,508.6 L222.37,507.8 L222.87,507 L223.35,506.2 L223.46,506 A5.33,5.33 0 0 1 233.82,508.5 L233.29,509.3 L232.78,510.1 L232.29,510.9 L231.82,511.7 L231.41,512.5 L231.05,513.3 L230.75,514.1 L230.52,514.9 L230.37,515.7 L230.3,516.5 L230.31,517.3 L230.4,518.1 L230.57,518.9 L230.82,519.7 L231.13,520.5 L231.51,521.3 L231.94,522.1 L232.41,522.9 L232.91,523.7 L233.42,524.5 L233.95,525.3 L234.46,526.1 L234.95,526.9 L235.42,527.7 L235.83,528.5 L236.19,529.3 L236.49,530.1 L236.72,530.9 L236.87,531.7 L236.94,532.5 L236.93,533.3 L236.84,534.1 L236.67,534.9 L236.42,535.7 L236.11,536.5 L235.73,537.3 L235.3,538.1 L234.83,538.9 L234.33,539.7 L233.82,540.5 L233.29,541.3 L232.78,542.1 L232.29,542.9 L231.82,543.7 L231.41,544.5 L231.05,545.3 L230.75,546.1 L230.52,546.9 L230.37,547.7 L230.3,548.5 L230.31,549.3 L230.4,550.1 L230.57,550.9 L230.82,551.7 L231.13,552.5 L231.51,553.3 L231.94,554.1 L232.41,554.9 L232.91,555.7 L233.42,556.5 L233.95,557.3 L234.46,558.1 L234.95,558.9 L235.42,559.7 L235.83,560.5 L236.19,561.3 L236.49,562.1 L236.72,562.9 L236.87,563.7 L236.94,564.5 L236.93,565.3 L236.84,566.1 L236.67,566.9 L236.42,567.7 L236.11,568.5 L235.73,569.3 L235.3,570.1 L234.83,570.9 L234.33,571.7 L233.82,572.5 L233.29,573.3 L232.78,574.1 L232.29,574.9 L231.82,575.7 L231.41,576.5 L231.05,577.3 L230.75,578.1 L230.52,578.9 L230.37,579.7 L230.3,580.5 L230.31,581.3 L230.4,582.1 L230.57,582.9 L230.82,583.7 L231.13,584.5 L231.51,585.3 L231.94,586.1 L232.41,586.9 L232.91,587.7 L233.42,588.5 L233.95,589.3 L234.46,590.1 L234.95,590.9 L235.42,591.7 L235.83,592.5 L236.19,593.3 L236.49,594.1 L236.72,594.9 L236.87,595.7 L236.94,596.5 L236.93,597.3 L236.84,598.1 L236.67,598.9 L236.42,599.7 L236.11,600.5 L235.73,601.3 L235.3,602.1 L234.83,602.9 L234.33,603.7 L233.82,604.5 L233.29,605.3 L232.78,606.1 L232.29,606.9 L231.82,607.7 L231.41,608.5 L231.05,609.3 L230.93,609.6 A5.46,5.46 0 0 1 220.33,607 Z" fill="none" stroke="#3c3c3c" stroke-width="0.85" stroke-linejoin="round"/>
<circle cx="187.4" cy="623.6" r="5.8" fill="none" stroke="#222" stroke-width="0.9"/>
<path d="M187.4,619 L191.2,626 L183.6,626 Z" fill="none" stroke="#222" stroke-width="0.8" stroke-linejoin="round" stroke-linecap="round" />
<path d="M187.4,621.2 L189.4,624.9 L185.4,624.9 Z" fill="none" stroke="#222" stroke-width="0.5" stroke-linejoin="round" stroke-linecap="round" />
<path d="M171.3,637 L171.3,652 Q171.3,653.8 173.2,653.8 L203.6,653.8 Q205.6,653.8 205.6,652 L205.6,637" fill="none" stroke="#222" stroke-width="1.1" stroke-linejoin="round" stroke-linecap="round" />
<line x1="171.3" y1="643.3" x2="205.6" y2="643.3" stroke="#444" stroke-width="0.7" />
<line x1="171.3" y1="645.3" x2="205.6" y2="645.3" stroke="#777" stroke-width="0.6" />
<path d="M173.4,653.8 L173.4,659.4 L203.2,659.4 L203.2,653.8" fill="none" stroke="#222" stroke-width="1.0" stroke-linejoin="round" stroke-linecap="round" />
<line x1="175.8" y1="659.4" x2="175.8" y2="720" stroke="#222" stroke-width="1.1" />
<line x1="200.8" y1="659.4" x2="200.8" y2="720" stroke="#222" stroke-width="1.1" />
<line x1="178" y1="660" x2="178" y2="718" stroke="#888" stroke-width="0.6" />
<line x1="175.8" y1="696.6" x2="200.8" y2="696.6" stroke="#555" stroke-width="0.7" />
<line x1="174.4" y1="699.4" x2="202.2" y2="699.4" stroke="#222" stroke-width="1.5" />
<circle cx="188" cy="732.4" r="14.2" fill="#fff" stroke="#333" stroke-width="1.1"/>
<circle cx="188" cy="732.4" r="12.4" fill="none" stroke="#555" stroke-width="0.8"/>
<circle cx="188" cy="732.4" r="8.7" fill="none" stroke="#222" stroke-width="1.5"/>
<path d="M168.4,741.2 L171,737.6 L175,737.6 M201,737.6 L205,737.6 L208,741.2" fill="none" stroke="#222" stroke-width="1.0" stroke-linejoin="round" stroke-linecap="round" />
<path d="M170.5,741.2 L172.2,739 L174,741.2 M202,741.2 L203.8,739 L205.5,741.2" fill="none" stroke="#222" stroke-width="0.6" stroke-linejoin="round" stroke-linecap="round" />
<line x1="121.4" y1="741.2" x2="255.3" y2="741.2" stroke="#585858" stroke-width="1.3" />
<line x1="121.4" y1="753.2" x2="255.3" y2="753.2" stroke="#585858" stroke-width="1.3" />
<circle cx="135.3" cy="747.2" r="2.7" fill="#fff" stroke="#222" stroke-width="0.9"/>
<circle cx="240.9" cy="747.2" r="2.7" fill="#fff" stroke="#222" stroke-width="0.9"/>
<circle cx="146.8" cy="747.2" r="4.1" fill="#fff" stroke="#222" stroke-width="1.0"/>
<circle cx="146.8" cy="747.2" r="2.3" fill="none" stroke="#333" stroke-width="1.2"/>
<circle cx="229.6" cy="747.2" r="4.1" fill="#fff" stroke="#222" stroke-width="1.0"/>
<circle cx="229.6" cy="747.2" r="2.3" fill="none" stroke="#333" stroke-width="1.2"/>
<path d="M137.2,753.2 L137.2,767 Q137.2,770 140.2,770 L153.4,770 Q156.4,770 156.4,767 L156.4,753.2" fill="none" stroke="#333" stroke-width="0.9" stroke-linejoin="round" stroke-linecap="round" />
<rect x="142.7" y="762.8" width="8.4" height="4.2" fill="none" stroke="#222" stroke-width="0.8" rx="2.1"/>
<path d="M219.5,753.2 L219.5,767 Q219.5,770 222.5,770 L235.7,770 Q238.7,770 238.7,767 L238.7,753.2" fill="none" stroke="#333" stroke-width="0.9" stroke-linejoin="round" stroke-linecap="round" />
<rect x="226.8" y="758.1" width="4.2" height="9.2" fill="none" stroke="#222" stroke-width="0.8" rx="2.1"/>
<path d="M168.4,755.6 L207.8,755.6 L207.8,768 M168.4,755.6 L168.4,768" fill="none" stroke="#222" stroke-width="1.0" stroke-linejoin="round" stroke-linecap="round" />
<path d="M170.2,757.4 L206,757.4" fill="none" stroke="#666" stroke-width="0.6" stroke-linejoin="round" stroke-linecap="round" />
<path d="M179,760.2 L197.5,760.2 L199,763 M179,760.2 L177.5,763" fill="none" stroke="#222" stroke-width="0.9" stroke-linejoin="round" stroke-linecap="round" />
<line x1="180" y1="758.8" x2="196.5" y2="758.8" stroke="#333" stroke-width="1.4" />
<circle cx="188" cy="794.4" r="31.1" fill="#fff" stroke="#2a2a2a" stroke-width="1.1"/>
<circle cx="188" cy="794.4" r="29.6" fill="none" stroke="#777" stroke-width="0.6"/>
<circle cx="188" cy="794.4" r="25.9" fill="none" stroke="#444" stroke-width="0.8"/>
<circle cx="188" cy="794.4" r="21.3" fill="none" stroke="#4c4c4c" stroke-width="4.0"/>
<circle cx="188" cy="794.4" r="23.4" fill="none" stroke="#222" stroke-width="0.6"/>
<circle cx="188" cy="794.4" r="19.2" fill="none" stroke="#222" stroke-width="0.7"/>
<path d="M179,760.2 L197.5,760.2" fill="none" stroke="#222" stroke-width="0.9" stroke-linejoin="round" stroke-linecap="round" />
<path d="M219.2,790.2 L220.5,790.2 L220.5,791.6 L226,791.6 L226,793.4 L220.5,793.4" fill="none" stroke="#222" stroke-width="0.7" stroke-linejoin="round" stroke-linecap="round" />
<path d="M166.2,818.5 L166.2,824 Q166.2,825.2 168,825.2 L208.4,825.2 Q210.2,825.2 210.2,824 L210.2,818.5" fill="none" stroke="#222" stroke-width="1.0" stroke-linejoin="round" stroke-linecap="round" />
<line x1="167" y1="820.6" x2="209.5" y2="820.6" stroke="#333" stroke-width="0.8" />
<line x1="167" y1="822.6" x2="209.5" y2="822.6" stroke="#333" stroke-width="0.8" />
<line x1="167.6" y1="825.2" x2="167.6" y2="845" stroke="#444" stroke-width="0.9" />
<line x1="167.6" y1="857" x2="167.6" y2="873.5" stroke="#444" stroke-width="0.9" />
<line x1="208.2" y1="825.2" x2="208.2" y2="845" stroke="#444" stroke-width="0.9" />
<line x1="208.2" y1="857" x2="208.2" y2="873.5" stroke="#444" stroke-width="0.9" />
<rect x="121.8" y="828" width="6.2" height="9" fill="#fff" stroke="#333" stroke-width="0.9"/>
<line x1="121.8" y1="831" x2="128" y2="831" stroke="#333" stroke-width="0.7" />
<line x1="121.8" y1="834" x2="128" y2="834" stroke="#333" stroke-width="0.7" />
<rect x="248.6" y="828" width="6.2" height="9" fill="#fff" stroke="#333" stroke-width="0.9"/>
<line x1="248.6" y1="831" x2="254.8" y2="831" stroke="#333" stroke-width="0.7" />
<line x1="248.6" y1="834" x2="254.8" y2="834" stroke="#333" stroke-width="0.7" />
<line x1="121.4" y1="845" x2="255.3" y2="845" stroke="#585858" stroke-width="1.3" />
<line x1="121.4" y1="857" x2="255.3" y2="857" stroke="#585858" stroke-width="1.3" />
<line x1="107.4" y1="878" x2="121.4" y2="878" stroke="#585858" stroke-width="1.3" />
<line x1="255.3" y1="878" x2="268.8" y2="878" stroke="#585858" stroke-width="1.3" />
<line x1="109" y1="878" x2="109" y2="892.9" stroke="#585858" stroke-width="1.0" />
<line x1="119.6" y1="878" x2="119.6" y2="892.9" stroke="#585858" stroke-width="1.0" />
<line x1="111.4" y1="878" x2="111.4" y2="892.9" stroke="#777" stroke-width="0.6" />
<line x1="117.2" y1="878" x2="117.2" y2="892.9" stroke="#777" stroke-width="0.6" />
<line x1="257" y1="878" x2="257" y2="892.9" stroke="#585858" stroke-width="1.0" />
<line x1="267.4" y1="878" x2="267.4" y2="892.9" stroke="#585858" stroke-width="1.0" />
<line x1="259.4" y1="878" x2="259.4" y2="892.9" stroke="#777" stroke-width="0.6" />
<line x1="265" y1="878" x2="265" y2="892.9" stroke="#777" stroke-width="0.6" />
<rect x="106.2" y="892.9" width="41.4" height="3.3" fill="#fff" stroke="#585858" stroke-width="0.9"/>
<rect x="228" y="892.9" width="42" height="3.3" fill="#fff" stroke="#585858" stroke-width="0.9"/>
<path d="M162.3,896 L162.3,877.5 Q162.3,873.8 165.5,873.8 L210.3,873.8 Q213.5,873.8 213.5,877.5 L213.5,896" fill="none" stroke="#222" stroke-width="1.1" stroke-linejoin="round" stroke-linecap="round" />
<line x1="162.3" y1="878.6" x2="213.5" y2="878.6" stroke="#444" stroke-width="0.7" />
<line x1="167.8" y1="878.6" x2="167.8" y2="934.5" stroke="#3a3a3a" stroke-width="0.7" />
<line x1="208.4" y1="878.6" x2="208.4" y2="934.5" stroke="#3a3a3a" stroke-width="0.7" />
<line x1="162.3" y1="896" x2="162.3" y2="960.8" stroke="#3a3a3a" stroke-width="0.7" />
<line x1="213.5" y1="896" x2="213.5" y2="960.8" stroke="#3a3a3a" stroke-width="0.7" />
<line x1="170" y1="932.6" x2="206" y2="932.6" stroke="#222" stroke-width="0.8" />
<polygon points="167.8,932.6 176.3,930.3 176.3,934.9" fill="#111"/>
<polygon points="208.4,932.6 199.9,930.3 199.9,934.9" fill="#111"/>
<text x="189.4" y="929.4" font-size="16.4" text-anchor="middle" fill="#141414" textLength="22" lengthAdjust="spacingAndGlyphs">90</text>
<line x1="165" y1="958.4" x2="211" y2="958.4" stroke="#222" stroke-width="0.8" />
<polygon points="162.3,958.4 170.8,956.1 170.8,960.7" fill="#111"/>
<polygon points="213.5,958.4 205,956.1 205,960.7" fill="#111"/>
<text x="190.2" y="951.8" font-size="16.4" text-anchor="middle" fill="#141414" textLength="32.2" lengthAdjust="spacingAndGlyphs">110</text>
<line x1="110" y1="363.4" x2="266" y2="363.4" stroke="#222" stroke-width="0.8" />
<polygon points="107.4,363.4 115.9,361.1 115.9,365.7" fill="#111"/>
<polygon points="268.6,363.4 260.1,361.1 260.1,365.7" fill="#111"/>
<line x1="107.4" y1="360" x2="107.4" y2="392.4" stroke="#3a3a3a" stroke-width="0.7" />
<line x1="268.6" y1="360" x2="268.6" y2="392.4" stroke="#3a3a3a" stroke-width="0.7" />
<text x="191.2" y="360.1" font-size="16.4" text-anchor="middle" fill="#141414" textLength="33.1" lengthAdjust="spacingAndGlyphs">352</text>
<line x1="132" y1="380.4" x2="244" y2="380.4" stroke="#222" stroke-width="0.8" />
<polygon points="129.6,380.4 138.1,378.1 138.1,382.7" fill="#111"/>
<polygon points="246,380.4 237.5,378.1 237.5,382.7" fill="#111"/>
<line x1="129.6" y1="377" x2="129.6" y2="399" stroke="#3a3a3a" stroke-width="0.7" />
<line x1="246" y1="377" x2="246" y2="399" stroke="#3a3a3a" stroke-width="0.7" />
<text x="191.4" y="378.1" font-size="16.4" text-anchor="middle" fill="#141414" textLength="33.1" lengthAdjust="spacingAndGlyphs">254</text>
<line x1="88.6" y1="396" x2="88.6" y2="874" stroke="#333" stroke-width="0.8" />
<polygon points="88.6,392.4 86.3,400.9 90.9,400.9" fill="#111"/>
<polygon points="88.6,878 86.3,869.5 90.9,869.5" fill="#111"/>
<line x1="85" y1="392.4" x2="104" y2="392.4" stroke="#3a3a3a" stroke-width="0.7" />
<line x1="86" y1="878" x2="104.2" y2="878" stroke="#3a3a3a" stroke-width="0.7" />
<text x="83.5" y="629" font-size="17" text-anchor="middle" fill="#141414" transform="rotate(-90 83.5 629)" textLength="43" lengthAdjust="spacingAndGlyphs">1060</text>
<line x1="86" y1="896.2" x2="104" y2="896.2" stroke="#3a3a3a" stroke-width="0.7" />
<polygon points="88.6,896.2 86.3,904.7 90.9,904.7" fill="#111"/>
<line x1="88.6" y1="878" x2="88.6" y2="958.4" stroke="#333" stroke-width="0.8" />
<text x="83.5" y="930.2" font-size="17" text-anchor="middle" fill="#141414" transform="rotate(-90 83.5 930.2)" textLength="54.2" lengthAdjust="spacingAndGlyphs">0~260</text>
<line x1="135.3" y1="686" x2="135.3" y2="744" stroke="#3a3a3a" stroke-width="0.7" />
<line x1="240.9" y1="686" x2="240.9" y2="744" stroke="#3a3a3a" stroke-width="0.7" />
<line x1="138" y1="689.6" x2="313.6" y2="689.6" stroke="#222" stroke-width="0.8" />
<polygon points="135.3,689.6 143.8,687.3 143.8,691.9" fill="#111"/>
<polygon points="240.9,689.6 232.4,687.3 232.4,691.9" fill="#111"/>
<text x="315" y="687.6" font-size="16.4" text-anchor="end" fill="#141414" textLength="32.2" lengthAdjust="spacingAndGlyphs">230</text>
<line x1="146.8" y1="711" x2="146.8" y2="743.5" stroke="#3a3a3a" stroke-width="0.7" />
<line x1="229.6" y1="711" x2="229.6" y2="743.5" stroke="#3a3a3a" stroke-width="0.7" />
<line x1="149" y1="714.8" x2="313.6" y2="714.8" stroke="#222" stroke-width="0.8" />
<polygon points="146.8,714.8 155.3,712.5 155.3,717.1" fill="#111"/>
<polygon points="229.6,714.8 221.1,712.5 221.1,717.1" fill="#111"/>
<text x="315" y="713.5" font-size="16.4" text-anchor="end" fill="#141414" textLength="32.2" lengthAdjust="spacingAndGlyphs">180</text>
<line x1="191" y1="732.2" x2="312.4" y2="732.2" stroke="#3a3a3a" stroke-width="0.7" />
<line x1="242.8" y1="747.2" x2="292" y2="747.2" stroke="#3a3a3a" stroke-width="0.7" />
<line x1="191" y1="794.4" x2="312.4" y2="794.4" stroke="#3a3a3a" stroke-width="0.7" />
<line x1="272" y1="878" x2="313.4" y2="878" stroke="#3a3a3a" stroke-width="0.7" />
<line x1="288" y1="722" x2="288" y2="728" stroke="#222" stroke-width="0.8" />
<polygon points="288,732.2 285.7,723.7 290.3,723.7" fill="#111"/>
<polygon points="288,747.2 285.7,755.7 290.3,755.7" fill="#111"/>
<line x1="288" y1="751" x2="288" y2="786.8" stroke="#222" stroke-width="0.8" />
<text x="287" y="773.8" font-size="17.2" text-anchor="middle" fill="#141414" transform="rotate(-90 287 773.8)" textLength="21.2" lengthAdjust="spacingAndGlyphs">35</text>
<line x1="310" y1="735" x2="310" y2="790" stroke="#222" stroke-width="0.8" />
<polygon points="310,732.2 307.7,740.7 312.3,740.7" fill="#111"/>
<polygon points="310,794 307.7,785.5 312.3,785.5" fill="#111"/>
<text x="308" y="762.2" font-size="17.2" text-anchor="middle" fill="#141414" transform="rotate(-90 308 762.2)" textLength="32.2" lengthAdjust="spacingAndGlyphs">135</text>
<line x1="310" y1="798" x2="310" y2="874" stroke="#222" stroke-width="0.8" />
<polygon points="310,794 307.7,802.5 312.3,802.5" fill="#111"/>
<polygon points="310,878 307.7,869.5 312.3,869.5" fill="#111"/>
<text x="308" y="834" font-size="17.2" text-anchor="middle" fill="#141414" transform="rotate(-90 308 834)" textLength="32.2" lengthAdjust="spacingAndGlyphs">183</text>
</g>
<g id="v-fside">
<rect x="368.75" y="383.75" width="13.75" height="527.5" fill="#c8c8c8"/>
<rect x="368.75" y="897" width="205" height="14.25" fill="#c8c8c8"/>
<rect x="390" y="396.6" width="90" height="5.4" fill="#1a1a1a"/>
<rect x="382.8" y="391.4" width="7.6" height="16" fill="#d0d0d0" stroke="#333" stroke-width="0.9" rx="2"/>
<rect x="479.5" y="396" width="4" height="7" fill="#fff" stroke="#222" stroke-width="0.8"/>
<line x1="483.1" y1="392.4" x2="483.1" y2="893.5" stroke="#222" stroke-width="1.3" />
<line x1="496.6" y1="392.4" x2="496.6" y2="896" stroke="#222" stroke-width="1.3" />
<line x1="494.9" y1="393" x2="494.9" y2="893" stroke="#555" stroke-width="0.7" />
<line x1="489.6" y1="393" x2="489.6" y2="893" stroke="#999" stroke-width="0.6" />
<line x1="483.1" y1="392.4" x2="496.6" y2="392.4" stroke="#222" stroke-width="1.2" />
<path d="M482.5,407.5 L472.5,407.5 Q467.5,407.5 467.5,413 L467.5,428.75" fill="none" stroke="#222" stroke-width="1.0" stroke-linejoin="round" stroke-linecap="round" />
<path d="M482.5,412 L475.5,412 Q472,412 472,416 L472,428.5" fill="none" stroke="#555" stroke-width="0.6" stroke-linejoin="round" stroke-linecap="round" />
<line x1="467.5" y1="423.5" x2="482.5" y2="423.5" stroke="#555" stroke-width="0.6" />
<rect x="448.6" y="418.4" width="9.4" height="5.2" fill="#222"/>
<rect x="449.6" y="423.4" width="7.6" height="5.2" fill="#fff" stroke="#222" stroke-width="0.8"/>
<path d="M482.5,428.75 L446.5,428.75 Q441.3,428.75 441.3,434 L441.3,480 Q441.3,482.5 444,482.5 L482.5,482.5" fill="none" stroke="#222" stroke-width="1.1" stroke-linejoin="round" stroke-linecap="round" />
<line x1="455.6" y1="428.75" x2="455.6" y2="487.5" stroke="#444" stroke-width="0.7" />
<line x1="441.5" y1="435.2" x2="478.5" y2="435.2" stroke="#777" stroke-width="0.6" />
<line x1="470" y1="428.75" x2="470" y2="487.5" stroke="#444" stroke-width="0.7" />
<line x1="478" y1="428.75" x2="478" y2="482.5" stroke="#777" stroke-width="0.6" />
<path d="M443,482.5 L443,487.5 L482.5,487.5" fill="none" stroke="#222" stroke-width="0.9" stroke-linejoin="round" stroke-linecap="round" />
<line x1="443" y1="485" x2="482.5" y2="485" stroke="#666" stroke-width="0.6" />
<path d="M482.5,487.5 L441.3,487.5 L441.3,632 Q441.3,636.3 445.5,636.3 L482.5,636.3" fill="none" stroke="#222" stroke-width="1.1" stroke-linejoin="round" stroke-linecap="round" />
<line x1="446.3" y1="487.5" x2="446.3" y2="634" stroke="#555" stroke-width="0.7" />
<line x1="477.5" y1="487.5" x2="477.5" y2="634" stroke="#555" stroke-width="0.7" />
<line x1="446.3" y1="634" x2="482.5" y2="634" stroke="#666" stroke-width="0.6" />
<path d="M452.6,636.3 L452.6,643.75 L453.5,645.5 L453.5,654 L455.5,656.3 L482.5,656.3" fill="none" stroke="#222" stroke-width="1.0" stroke-linejoin="round" stroke-linecap="round" />
<line x1="452.6" y1="643.75" x2="482.5" y2="643.75" stroke="#444" stroke-width="0.7" />
<line x1="453.5" y1="645.6" x2="482.5" y2="645.6" stroke="#777" stroke-width="0.6" />
<line x1="455" y1="654.3" x2="482.5" y2="654.3" stroke="#777" stroke-width="0.6" />
<path d="M456.3,658.8 L482.5,658.8 M456.3,658.8 L456.3,699" fill="none" stroke="#222" stroke-width="1.0" stroke-linejoin="round" stroke-linecap="round" />
<line x1="458.6" y1="660" x2="458.6" y2="696" stroke="#888" stroke-width="0.6" />
<line x1="456.3" y1="696.4" x2="482.5" y2="696.4" stroke="#555" stroke-width="0.7" />
<line x1="455.4" y1="699.2" x2="482.6" y2="699.2" stroke="#222" stroke-width="1.2" />
<line x1="455.4" y1="700.9" x2="482.6" y2="700.9" stroke="#222" stroke-width="1.0" />
<path d="M456.3,701.2 L456.3,720 C456.3,735 466,745 481,745.5" fill="none" stroke="#222" stroke-width="1.0" stroke-linejoin="round" stroke-linecap="round" />
<path d="M468.8,720 L482.5,720 M468.8,720 C468.8,728 474,732.5 482.5,732.5" fill="none" stroke="#222" stroke-width="0.9" stroke-linejoin="round" stroke-linecap="round" />
<rect x="407" y="745.6" width="71" height="5.2" fill="#1a1a1a"/>
<rect x="501.5" y="745.6" width="71" height="5.2" fill="#1a1a1a"/>
<rect x="477.5" y="743.5" width="4.6" height="9" fill="#fff" stroke="#222" stroke-width="0.8"/>
<rect x="497.5" y="743.5" width="4.6" height="9" fill="#fff" stroke="#222" stroke-width="0.8"/>
<path d="M497,720.5 L502.8,720.5 L502.8,743.5" fill="none" stroke="#222" stroke-width="0.9" stroke-linejoin="round" stroke-linecap="round" />
<line x1="499.6" y1="721" x2="499.6" y2="743.5" stroke="#666" stroke-width="0.6" />
<rect x="502.8" y="722" width="57.4" height="20.6" fill="#fff" stroke="#222" stroke-width="1.0"/>
<line x1="503" y1="724" x2="560" y2="724" stroke="#888" stroke-width="0.5" />
<rect x="560.2" y="719" width="13.4" height="26.4" fill="#fff" stroke="#222" stroke-width="0.9" rx="1"/>
<line x1="563" y1="718.2" x2="563" y2="745.4" stroke="#333" stroke-width="0.7" />
<line x1="565.6" y1="718.2" x2="565.6" y2="745.4" stroke="#333" stroke-width="0.7" />
<line x1="568.2" y1="718.2" x2="568.2" y2="745.4" stroke="#333" stroke-width="0.7" />
<line x1="570.8" y1="718.2" x2="570.8" y2="745.4" stroke="#333" stroke-width="0.7" />
<path d="M496.6,409.8 Q499,410.5 500.4,413.6 L500.4,477 Q499,480 496.6,480.7" fill="none" stroke="#222" stroke-width="1.0" stroke-linejoin="round" stroke-linecap="round" />
<line x1="498.6" y1="411.5" x2="498.6" y2="479" stroke="#777" stroke-width="0.7" />
<rect x="501.6" y="414.6" width="21" height="61.2" fill="#fff" stroke="#222" stroke-width="0.9"/>
<line x1="507" y1="414.6" x2="507" y2="475.8" stroke="#444" stroke-width="0.7" />
<line x1="509.2" y1="414.6" x2="509.2" y2="475.8" stroke="#444" stroke-width="0.7" />
<line x1="511.8" y1="414.6" x2="511.8" y2="475.8" stroke="#444" stroke-width="0.7" />
<line x1="514.6" y1="414.6" x2="514.6" y2="475.8" stroke="#444" stroke-width="0.7" />
<line x1="517.4" y1="414.6" x2="517.4" y2="475.8" stroke="#444" stroke-width="0.7" />
<line x1="520.2" y1="414.6" x2="520.2" y2="475.8" stroke="#444" stroke-width="0.7" />
<path d="M507.4,444 l1.6,2.4 l1.6,-2.4 l1.6,2.4 l1.6,-2.4 l1.6,2.4 l1.6,-2.4 l1.6,2.4 l1.6,-2.4" fill="none" stroke="#333" stroke-width="0.6" stroke-linejoin="round" stroke-linecap="round" />
<path d="M522.6,415 L527.8,412.4 L527.8,478.6 L522.6,476 Z" fill="#d4d4d4" stroke="#222" stroke-width="0.9" stroke-linejoin="round" stroke-linecap="round" />
<line x1="527.6" y1="412.4" x2="527.6" y2="478.6" stroke="#333" stroke-width="1.3" />
<rect x="523.8" y="423.6" width="1.8" height="6" fill="#bbb" stroke="#444" stroke-width="0.6" rx="0.8"/>
<rect x="523.8" y="460.6" width="1.8" height="6" fill="#bbb" stroke="#444" stroke-width="0.6" rx="0.8"/>
<path d="M482.5,758.8 L475.5,758.8 L473.8,761 L473.8,768 L476,770.3 L482.5,770.3" fill="none" stroke="#222" stroke-width="0.9" stroke-linejoin="round" stroke-linecap="round" />
<path d="M435,820 L435,812 C435,789 452,772.6 476.3,772.6" fill="none" stroke="#222" stroke-width="1.0" stroke-linejoin="round" stroke-linecap="round" />
<rect x="476.3" y="771.2" width="6.2" height="45" fill="#fff" stroke="#222" stroke-width="0.9"/>
<line x1="479.8" y1="772" x2="479.8" y2="816" stroke="#444" stroke-width="1.2" />
<path d="M435,812.5 L476.3,812.5" fill="none" stroke="#777" stroke-width="0.6" stroke-linejoin="round" stroke-linecap="round" />
<line x1="435" y1="818.6" x2="477.5" y2="818.6" stroke="#777" stroke-width="0.6" />
<line x1="433.8" y1="821.2" x2="478" y2="821.2" stroke="#222" stroke-width="1.3" />
<line x1="433.8" y1="823.8" x2="478" y2="823.8" stroke="#222" stroke-width="1.3" />
<line x1="433.8" y1="820.6" x2="433.8" y2="824.4" stroke="#222" stroke-width="0.8" />
<line x1="478" y1="820.6" x2="478" y2="824.4" stroke="#222" stroke-width="0.8" />
<line x1="435" y1="825" x2="435" y2="873.7" stroke="#222" stroke-width="1.0" />
<line x1="477.5" y1="825" x2="477.5" y2="873.7" stroke="#222" stroke-width="1.0" />
<path d="M429.6,897 L429.6,880 L431.3,875.2 Q431.8,873.7 433.5,873.7 L480,873.7 Q481.6,873.7 482,875.2 L482.6,880 L482.6,897" fill="none" stroke="#222" stroke-width="1.0" stroke-linejoin="round" stroke-linecap="round" />
<line x1="430" y1="879" x2="482.4" y2="879" stroke="#444" stroke-width="0.7" />
<line x1="431" y1="876.4" x2="482" y2="876.4" stroke="#777" stroke-width="0.6" />
<path d="M481.3,878.8 L481.3,895.8 L497,895.8" fill="none" stroke="#222" stroke-width="1.0" stroke-linejoin="round" stroke-linecap="round" />
<line x1="486.3" y1="878.8" x2="486.3" y2="895" stroke="#555" stroke-width="0.6" />
<line x1="483.9" y1="893.6" x2="497" y2="893.6" stroke="#444" stroke-width="0.7" />
<circle cx="489.3" cy="832.5" r="1.5" fill="none" stroke="#222" stroke-width="0.7"/>
<rect x="497" y="768.8" width="9.3" height="51.2" fill="#fff" stroke="#222" stroke-width="1.0"/>
<line x1="500.4" y1="769" x2="500.4" y2="820" stroke="#666" stroke-width="0.6" />
<line x1="503.6" y1="769" x2="503.6" y2="820" stroke="#666" stroke-width="0.6" />
<rect x="498.6" y="775.5" width="2.2" height="3.4" fill="none" stroke="#222" stroke-width="0.7"/>
<rect x="498.6" y="809.5" width="2.2" height="3.4" fill="none" stroke="#222" stroke-width="0.7"/>
<path d="M506.3,773.8 L553.8,773.8 L557.5,771 L557.5,766.3 L565,766.3 L565,763.8 L572.6,763.8 Q573.8,763.8 573.8,765 L573.8,823.8 Q573.8,825 572.6,825 L565,825 L565,822.5 L557.5,822.5 L557.5,818 L553.8,815 L506.3,815" fill="none" stroke="#222" stroke-width="1.0" stroke-linejoin="round" stroke-linecap="round" />
<line x1="557.5" y1="771" x2="557.5" y2="818" stroke="#444" stroke-width="0.7" />
<line x1="565" y1="766.3" x2="565" y2="822.5" stroke="#444" stroke-width="0.7" />
<line x1="554" y1="774" x2="554" y2="815" stroke="#777" stroke-width="0.6" />
<line x1="506.3" y1="776" x2="553.8" y2="776" stroke="#999" stroke-width="0.5" />
<line x1="382.5" y1="352.5" x2="382.5" y2="383.75" stroke="#3a3a3a" stroke-width="0.7" />
<line x1="497" y1="352.5" x2="497" y2="390" stroke="#3a3a3a" stroke-width="0.7" />
<line x1="527.5" y1="352.5" x2="527.5" y2="409" stroke="#3a3a3a" stroke-width="0.7" />
<line x1="385" y1="355.75" x2="586.25" y2="355.75" stroke="#222" stroke-width="0.8" />
<polygon points="382.5,355.75 391,353.45 391,358.05" fill="#111"/>
<polygon points="496.8,355.75 488.3,353.45 488.3,358.05" fill="#111"/>
<polygon points="497.2,355.75 505.7,353.45 505.7,358.05" fill="#111"/>
<polygon points="527.5,355.75 519,353.45 519,358.05" fill="#111"/>
<text x="448.2" y="353.7" font-size="16.4" text-anchor="middle" fill="#141414" textLength="77" lengthAdjust="spacingAndGlyphs">150~265</text>
<text x="588" y="353.7" font-size="16.4" text-anchor="end" fill="#141414" textLength="55" lengthAdjust="spacingAndGlyphs">45~68</text>
<line x1="444" y1="542.5" x2="536.25" y2="542.5" stroke="#222" stroke-width="0.8" />
<polygon points="441.3,542.5 449.8,540.2 449.8,544.8" fill="#111"/>
<polygon points="497,542.5 488.5,540.2 488.5,544.8" fill="#111"/>
<text x="537.2" y="540.5" font-size="16.4" text-anchor="end" fill="#141414" textLength="32.2" lengthAdjust="spacingAndGlyphs">121</text>
<line x1="478.75" y1="849.25" x2="490" y2="849.25" stroke="#222" stroke-width="0.8" />
<polygon points="497,849.25 488.5,846.95 488.5,851.55" fill="#111"/>
<polygon points="507.5,849.25 516,846.95 516,851.55" fill="#111"/>
<line x1="514" y1="849.25" x2="547.5" y2="849.25" stroke="#222" stroke-width="0.8" />
<line x1="507.5" y1="820" x2="507.5" y2="852.5" stroke="#3a3a3a" stroke-width="0.7" />
<text x="547.8" y="847.5" font-size="16.4" text-anchor="end" fill="#141414" textLength="21.5" lengthAdjust="spacingAndGlyphs">23</text>
<line x1="393.25" y1="864.25" x2="494" y2="864.25" stroke="#222" stroke-width="0.8" />
<polygon points="435,864.25 443.5,861.95 443.5,866.55" fill="#111"/>
<polygon points="497,864.25 488.5,861.95 488.5,866.55" fill="#111"/>
<text x="392.6" y="862.2" font-size="16.4" text-anchor="start" fill="#141414" textLength="32.2" lengthAdjust="spacingAndGlyphs">134</text>
<line x1="429.5" y1="897" x2="429.5" y2="938.75" stroke="#3a3a3a" stroke-width="0.7" />
<line x1="497" y1="896" x2="497" y2="938.75" stroke="#3a3a3a" stroke-width="0.7" />
<line x1="432" y1="935.75" x2="494" y2="935.75" stroke="#222" stroke-width="0.8" />
<polygon points="429.5,935.75 438,933.45 438,938.05" fill="#111"/>
<polygon points="497,935.75 488.5,933.45 488.5,938.05" fill="#111"/>
<text x="465.8" y="933.7" font-size="16.4" text-anchor="middle" fill="#141414" textLength="33.3" lengthAdjust="spacingAndGlyphs">146</text>
</g>
<g id="v-plate">
<rect x="722" y="392.75" width="95.7" height="63.45" fill="none" stroke="#222" stroke-width="1.5" rx="1"/>
<circle cx="754.5" cy="428.3" r="15.4" fill="none" stroke="#222" stroke-width="1.0"/>
<circle cx="754.5" cy="428.3" r="12.6" fill="none" stroke="#222" stroke-width="1.5"/>
<circle cx="787.5" cy="430.2" r="12.4" fill="none" stroke="#222" stroke-width="1.0"/>
<circle cx="787.5" cy="430.2" r="9.1" fill="none" stroke="#222" stroke-width="1.5"/>
<line x1="722" y1="372.5" x2="722" y2="392.75" stroke="#3a3a3a" stroke-width="0.7" />
<line x1="817.7" y1="372.5" x2="817.7" y2="392.75" stroke="#3a3a3a" stroke-width="0.7" />
<line x1="726" y1="377" x2="814" y2="377" stroke="#222" stroke-width="0.8" />
<polygon points="722,377 733,374.2 733,379.8" fill="#111"/>
<polygon points="817.7,377 806.7,374.2 806.7,379.8" fill="#111"/>
<text x="771.4" y="375.2" font-size="16.4" text-anchor="middle" fill="#141414" textLength="32.8" lengthAdjust="spacingAndGlyphs">250</text>
<line x1="817.7" y1="392.75" x2="842" y2="392.75" stroke="#3a3a3a" stroke-width="0.7" />
<line x1="817.7" y1="456.2" x2="842" y2="456.2" stroke="#3a3a3a" stroke-width="0.7" />
<line x1="837.5" y1="396" x2="837.5" y2="453" stroke="#222" stroke-width="0.8" />
<polygon points="837.5,392.75 834.7,403.75 840.3,403.75" fill="#111"/>
<polygon points="837.5,456.2 834.7,445.2 840.3,445.2" fill="#111"/>
<text x="834.9" y="424.4" font-size="16.8" text-anchor="middle" fill="#141414" transform="rotate(-90 834.9 424.4)" textLength="32.6" lengthAdjust="spacingAndGlyphs">160</text>
<rect x="891.4" y="392.5" width="3.8" height="64.1" fill="#fff" stroke="#222" stroke-width="1.0"/>
<path d="M891.4,400 L885.5,400 L884,404 L883.2,436 L883.2,448 L887,448 L887,449.5 L891.4,449.5" fill="none" stroke="#222" stroke-width="0.9" stroke-linejoin="round" stroke-linecap="round" />
<path d="M887.2,401 L887.2,448 M885.5,401 L886.5,447" fill="none" stroke="#444" stroke-width="0.6" stroke-linejoin="round" stroke-linecap="round" />
<path d="M884,408 L886.6,424 L886.6,427" fill="none" stroke="#222" stroke-width="1.2" stroke-linejoin="round" stroke-linecap="round" />
<rect x="887.2" y="421.5" width="4.2" height="6" fill="none" stroke="#333" stroke-width="0.7"/>
<rect x="880.2" y="431" width="3" height="2" fill="#333"/>
<rect x="880.2" y="436.5" width="3" height="2" fill="#333"/>
<line x1="881.5" y1="431" x2="881.5" y2="438.5" stroke="#333" stroke-width="0.7" />
<line x1="873.75" y1="390.25" x2="884" y2="390.25" stroke="#222" stroke-width="0.8" />
<polygon points="891.4,390.25 880.4,387.45 880.4,393.05" fill="#111"/>
<polygon points="895.2,390.25 906.2,387.45 906.2,393.05" fill="#111"/>
<line x1="905" y1="390.25" x2="929.3" y2="390.25" stroke="#222" stroke-width="0.8" />
<line x1="891.4" y1="387.5" x2="891.4" y2="392.5" stroke="#3a3a3a" stroke-width="0.7" />
<line x1="895.2" y1="387.5" x2="895.2" y2="392.5" stroke="#999" stroke-width="0.6" />
<text x="930.2" y="386.3" font-size="16.4" text-anchor="end" fill="#141414" textLength="21" lengthAdjust="spacingAndGlyphs">10</text>
</g>
</svg>
</body></html>
